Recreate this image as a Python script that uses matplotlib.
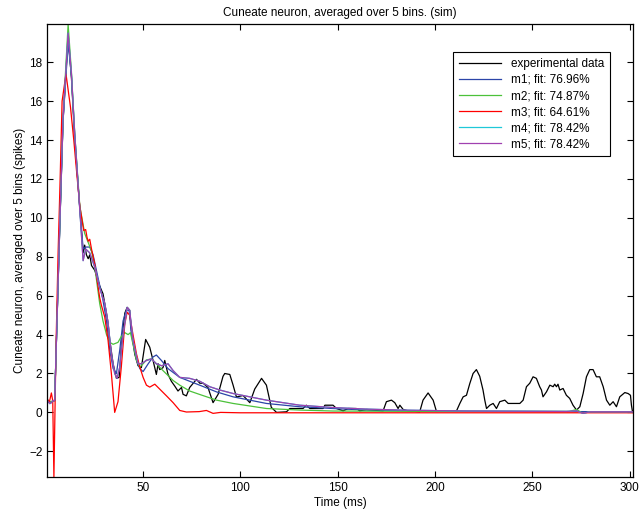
import matplotlib
matplotlib.use("Agg")
import matplotlib.pyplot as plt

plt.rcParams['font.family'] = ['Liberation Sans', 'DejaVu Sans']

title = "Cuneate neuron, averaged over 5 bins. (sim)"
xlabel = "Time (ms)"
ylabel = "Cuneate neuron, averaged over 5 bins (spikes)"
labels = ["experimental data", "m1; fit: 76.96%", "m2; fit: 74.87%",
          "m3; fit: 64.61%", "m4; fit: 78.42%", "m5; fit: 78.42%"]
xticks = [50, 100, 150, 200, 250, 300]
yticks = [-2, 0, 2, 4, 6, 8, 10, 12, 14, 16, 18]

# experimental data
exp_t = [1, 2, 3, 4, 4.8, 7.4, 9.1, 11.7, 13.4, 15.1, 17.3, 19.4, 20.2, 21.1, 22, 22.8, 23.7,
         25.4, 27.9, 29.6, 31.4, 32.2, 33.1, 34.8, 36.5, 37.9, 39.0, 40.8, 42.0, 43.3, 44.2,
         45.9, 47.6, 49.3, 51.5, 53.6, 55.3, 57.0, 57.9, 58.7, 60.4, 61.3, 63.0, 64.7, 66.4,
         68.1, 69.9, 70.7, 72.4, 74.1, 77.6, 79.3, 81, 83.5, 86.1, 88.7, 91.2, 92.1, 94.7,
         96.4, 98.1, 101.5, 105, 107.5, 111, 113.5, 116, 118.7, 123.8, 125.5, 132.3, 134,
         135.8, 142.6, 143.5, 147.7, 149.5, 152.9, 155.5, 159.7, 161.4, 164.9, 173.4, 175.1,
         177.7, 179.4, 181.1, 182, 183.7, 186.2, 192.2, 193.9, 196.5, 199.1, 200.8, 211.1,
         212.8, 214.5, 216.2, 217.9, 219.6, 221.3, 223, 224.7, 225.6, 226.5, 228.2, 229.9,
         231.6, 233.3, 235.9, 237.6, 243.6, 245.3, 247, 248.7, 250.4, 252.1, 253.8, 254.7,
         255.5, 257.3, 259, 260.7, 261.5, 262.4, 263.2, 264.1, 265.8, 267.5, 269.2, 270.9,
         272.7, 274.4, 276.1, 277.8, 279.5, 281.2, 282.9, 284.6, 286.4, 288.1, 289.8, 291.5,
         293.2, 294.9, 297.5, 299.2, 300.4, 300.9, 301.5]
exp_v = [0.65, 0.55, 0.5, 0.6, 0.6, 9.5, 15.0, 19.3, 17.2, 14.0, 11.0, 8.2, 8.6, 8.1, 7.9,
         8.1, 7.55, 7.3, 6.5, 6.1, 5.1, 4.6, 3.7, 2.5, 1.75, 1.8, 3.4, 5.1, 5.4, 5.25, 4.2,
         3.0, 2.4, 2.3, 3.75, 3.35, 2.67, 1.95, 2.5, 2.2, 2.3, 2.67, 1.95, 1.6, 1.36, 1.1,
         1.28, 0.93, 0.85, 1.28, 1.7, 1.5, 1.5, 1.28, 0.5, 0.93, 1.85, 2.0, 1.95, 1.4, 0.79,
         0.87, 0.5, 1.2, 1.75, 1.4, 0.26, 0.0, 0.03, 0.2, 0.2, 0.37, 0.2, 0.2, 0.37, 0.37,
         0.2, 0.08, 0.2, 0.2, 0.08, 0.15, 0.08, 0.55, 0.63, 0.5, 0.2, 0.37, 0.15, 0.08, 0.03,
         0.63, 1.0, 0.63, 0.05, 0.08, 0.46, 0.8, 0.88, 1.48, 2.0, 2.2, 1.86, 1.15, 0.63, 0.2,
         0.37, 0.46, 0.2, 0.55, 0.63, 0.46, 0.46, 0.63, 1.32, 1.5, 1.83, 1.75, 1.32, 1.15,
         0.8, 1.06, 1.4, 1.32, 1.45, 1.32, 1.45, 1.15, 1.23, 0.88, 0.72, 0.37, 0.12, 0.29,
         0.97, 1.83, 2.2, 2.2, 1.83, 1.83, 1.32, 0.63, 0.37, 0.55, 0.29, 0.8, 1.02, 0.97,
         0.88, 0.37, 0.0]

# m1
m1_t = [1, 2, 3, 4, 4.8, 7.4, 9.1, 11.7, 13.4, 15.1, 17.3, 19.4, 20.7, 22.8, 24.5, 27.1, 29.6,
        31.4, 33.1, 34.8, 36.5, 38.2, 39.9, 41.6, 43, 44.2, 46.8, 48.5, 50.2, 52.8, 55.3, 57,
        59.6, 63, 69, 74.1, 80, 88, 96.4, 113.5, 130.6, 147.7, 164.9, 199, 250, 301.5]
m1_v = [0.62, 0.55, 0.55, 0.6, 0.62, 9.5, 15.0, 19.0, 17.3, 14.2, 11.0, 8.4, 8.5, 8.5, 8.1,
        6.9, 5.76, 4.7, 3.2, 2.25, 2.0, 3.2, 4.7, 5.25, 5.25, 4.0, 2.7, 2.25, 2.1, 2.5, 2.85,
        2.95, 2.67, 2.25, 1.8, 1.6, 1.37, 1.05, 0.8, 0.46, 0.29, 0.2, 0.12, 0.07, 0.05, 0.03]

# m2
m2_t = [1, 2, 3, 4, 4.8, 7.4, 9.1, 11.7, 13.4, 15.1, 17.7, 20.2, 23.7, 25.4, 27.9, 29.6,
        31.4, 33.1, 34.8, 37.3, 39, 40.8, 42.5, 43.7, 45, 46.8, 48.5, 50.2, 51.9, 54.5, 57,
        60.4, 65.6, 69, 74.1, 79.3, 87.9, 96.4, 113.5, 130.6, 147.7, 199, 269, 272.7, 276,
        279.5, 301.5]
m2_v = [0.62, 0.55, 0.55, 0.6, 0.62, 9.7, 15.2, 19.95, 17.5, 14.3, 10.6, 9.2, 8.3, 7.46,
        5.6, 4.7, 4.0, 3.6, 3.5, 3.6, 3.9, 4.1, 4.0, 4.1, 3.5, 2.67, 2.33, 2.5, 2.7, 2.75,
        2.5, 2.15, 1.64, 1.4, 1.1, 0.92, 0.63, 0.46, 0.2, 0.12, 0.07, 0.05, 0.05, 0.15,
        -0.05, 0.03, 0.03]

# m3
m3_t = [1, 2, 3.1, 3.8, 4.4, 5.5, 6.5, 7.6, 8.6, 10.6, 12.9, 14.6, 16.3, 17.7, 19.7, 20.7,
        21.4, 22, 22.8, 23.7, 25.4, 27.9, 28.8, 30.5, 32.2, 33.9, 35.6, 37.3, 39, 40.8, 42,
        43.3, 45, 46.8, 48.5, 50.2, 51.9, 53.6, 56.2, 58.7, 62.2, 65.6, 69, 72.4, 79, 82.7,
        86.1, 90, 100, 150, 200, 250, 301.5]
m3_v = [0.7, 0.5, 1.0, 0.6, -3.35, 3.5, 8.0, 12.0, 16.0, 17.4, 15.7, 14.0, 12.1, 10.6, 9.35,
        9.4, 9.0, 8.8, 8.9, 8.4, 7.6, 5.9, 5.5, 4.9, 3.7, 2.0, 0.0, 0.55, 2.33, 4.55, 5.15,
        5.0, 4.0, 3.0, 2.33, 1.8, 1.4, 1.3, 1.45, 1.2, 0.85, 0.5, 0.1, 0.02, 0.04, 0.1,
        -0.05, 0.0, -0.02, -0.02, -0.02, -0.02, -0.02]

# m5 (m4 coincides with it)
m5_t = [1, 2.3, 3, 4, 4.8, 7.4, 9.1, 11.7, 13.4, 15.1, 17.3, 19.4, 20.7, 22.8, 25.4, 27.9,
        30.5, 32.2, 33.9, 35.6, 36.8, 38.2, 39.9, 42, 43.3, 45, 47.6, 49.3, 51.9, 54.5, 57,
        59.6, 63, 65.6, 69, 74.1, 79.3, 84.4, 89.6, 96.4, 113.5, 130.6, 147.7, 164.9, 182,
        216.2, 267.5, 272.7, 276, 279.5, 301.5]
m5_v = [0.6, 0.45, 0.5, 0.6, 0.62, 9.6, 15.1, 19.5, 17.4, 14.3, 11.0, 7.8, 8.4, 8.2, 7.46,
        6.4, 5.6, 4.6, 3.0, 2.0, 1.75, 2.33, 4.0, 5.4, 5.25, 3.7, 2.5, 2.5, 2.67, 2.75, 2.5,
        2.4, 2.5, 2.15, 1.8, 1.75, 1.6, 1.32, 1.15, 0.97, 0.63, 0.37, 0.25, 0.17, 0.12,
        0.07, 0.05, 0.08, -0.05, 0.03, 0.03]
m4_t = list(m5_t)
m4_v = list(m5_v)

colors = ['#000000', '#2b45a8', '#4cc13a', '#ff0000', '#1fc8d8', '#a040b0']

fig = plt.figure(figsize=(6.39, 5.12), dpi=100)
ax = fig.add_axes([0.074, 0.0684, 0.916, 0.8841])

series = [(exp_t, exp_v), (m1_t, m1_v), (m2_t, m2_v), (m3_t, m3_v), (m4_t, m4_v), (m5_t, m5_v)]
for (t, v), c, lab in zip(series, colors, labels):
    ax.plot(t, v, color=c, lw=0.9, label=lab)

ax.set_xlim(1, 301.5)
ax.set_ylim(-3.32, 19.95)
ax.set_xticks(xticks)
ax.set_yticks(yticks)
ax.tick_params(direction='in', top=True, right=True, labelsize=8.5, length=4, width=0.8)
for s in ax.spines.values():
    s.set_linewidth(0.9)
ax.set_title(title, fontsize=8.5, pad=6)
ax.set_xlabel(xlabel, fontsize=8.5, labelpad=2)
ax.set_ylabel(ylabel, fontsize=8.5, labelpad=2)

leg = ax.legend(loc='upper right', bbox_to_anchor=(0.961, 0.939), borderaxespad=0,
                fancybox=False, edgecolor='black', fontsize=8.5, framealpha=1,
                handlelength=3.6, borderpad=0.5, labelspacing=0.35)
leg.get_frame().set_linewidth(0.8)

fig.savefig("out.png", dpi=100)
